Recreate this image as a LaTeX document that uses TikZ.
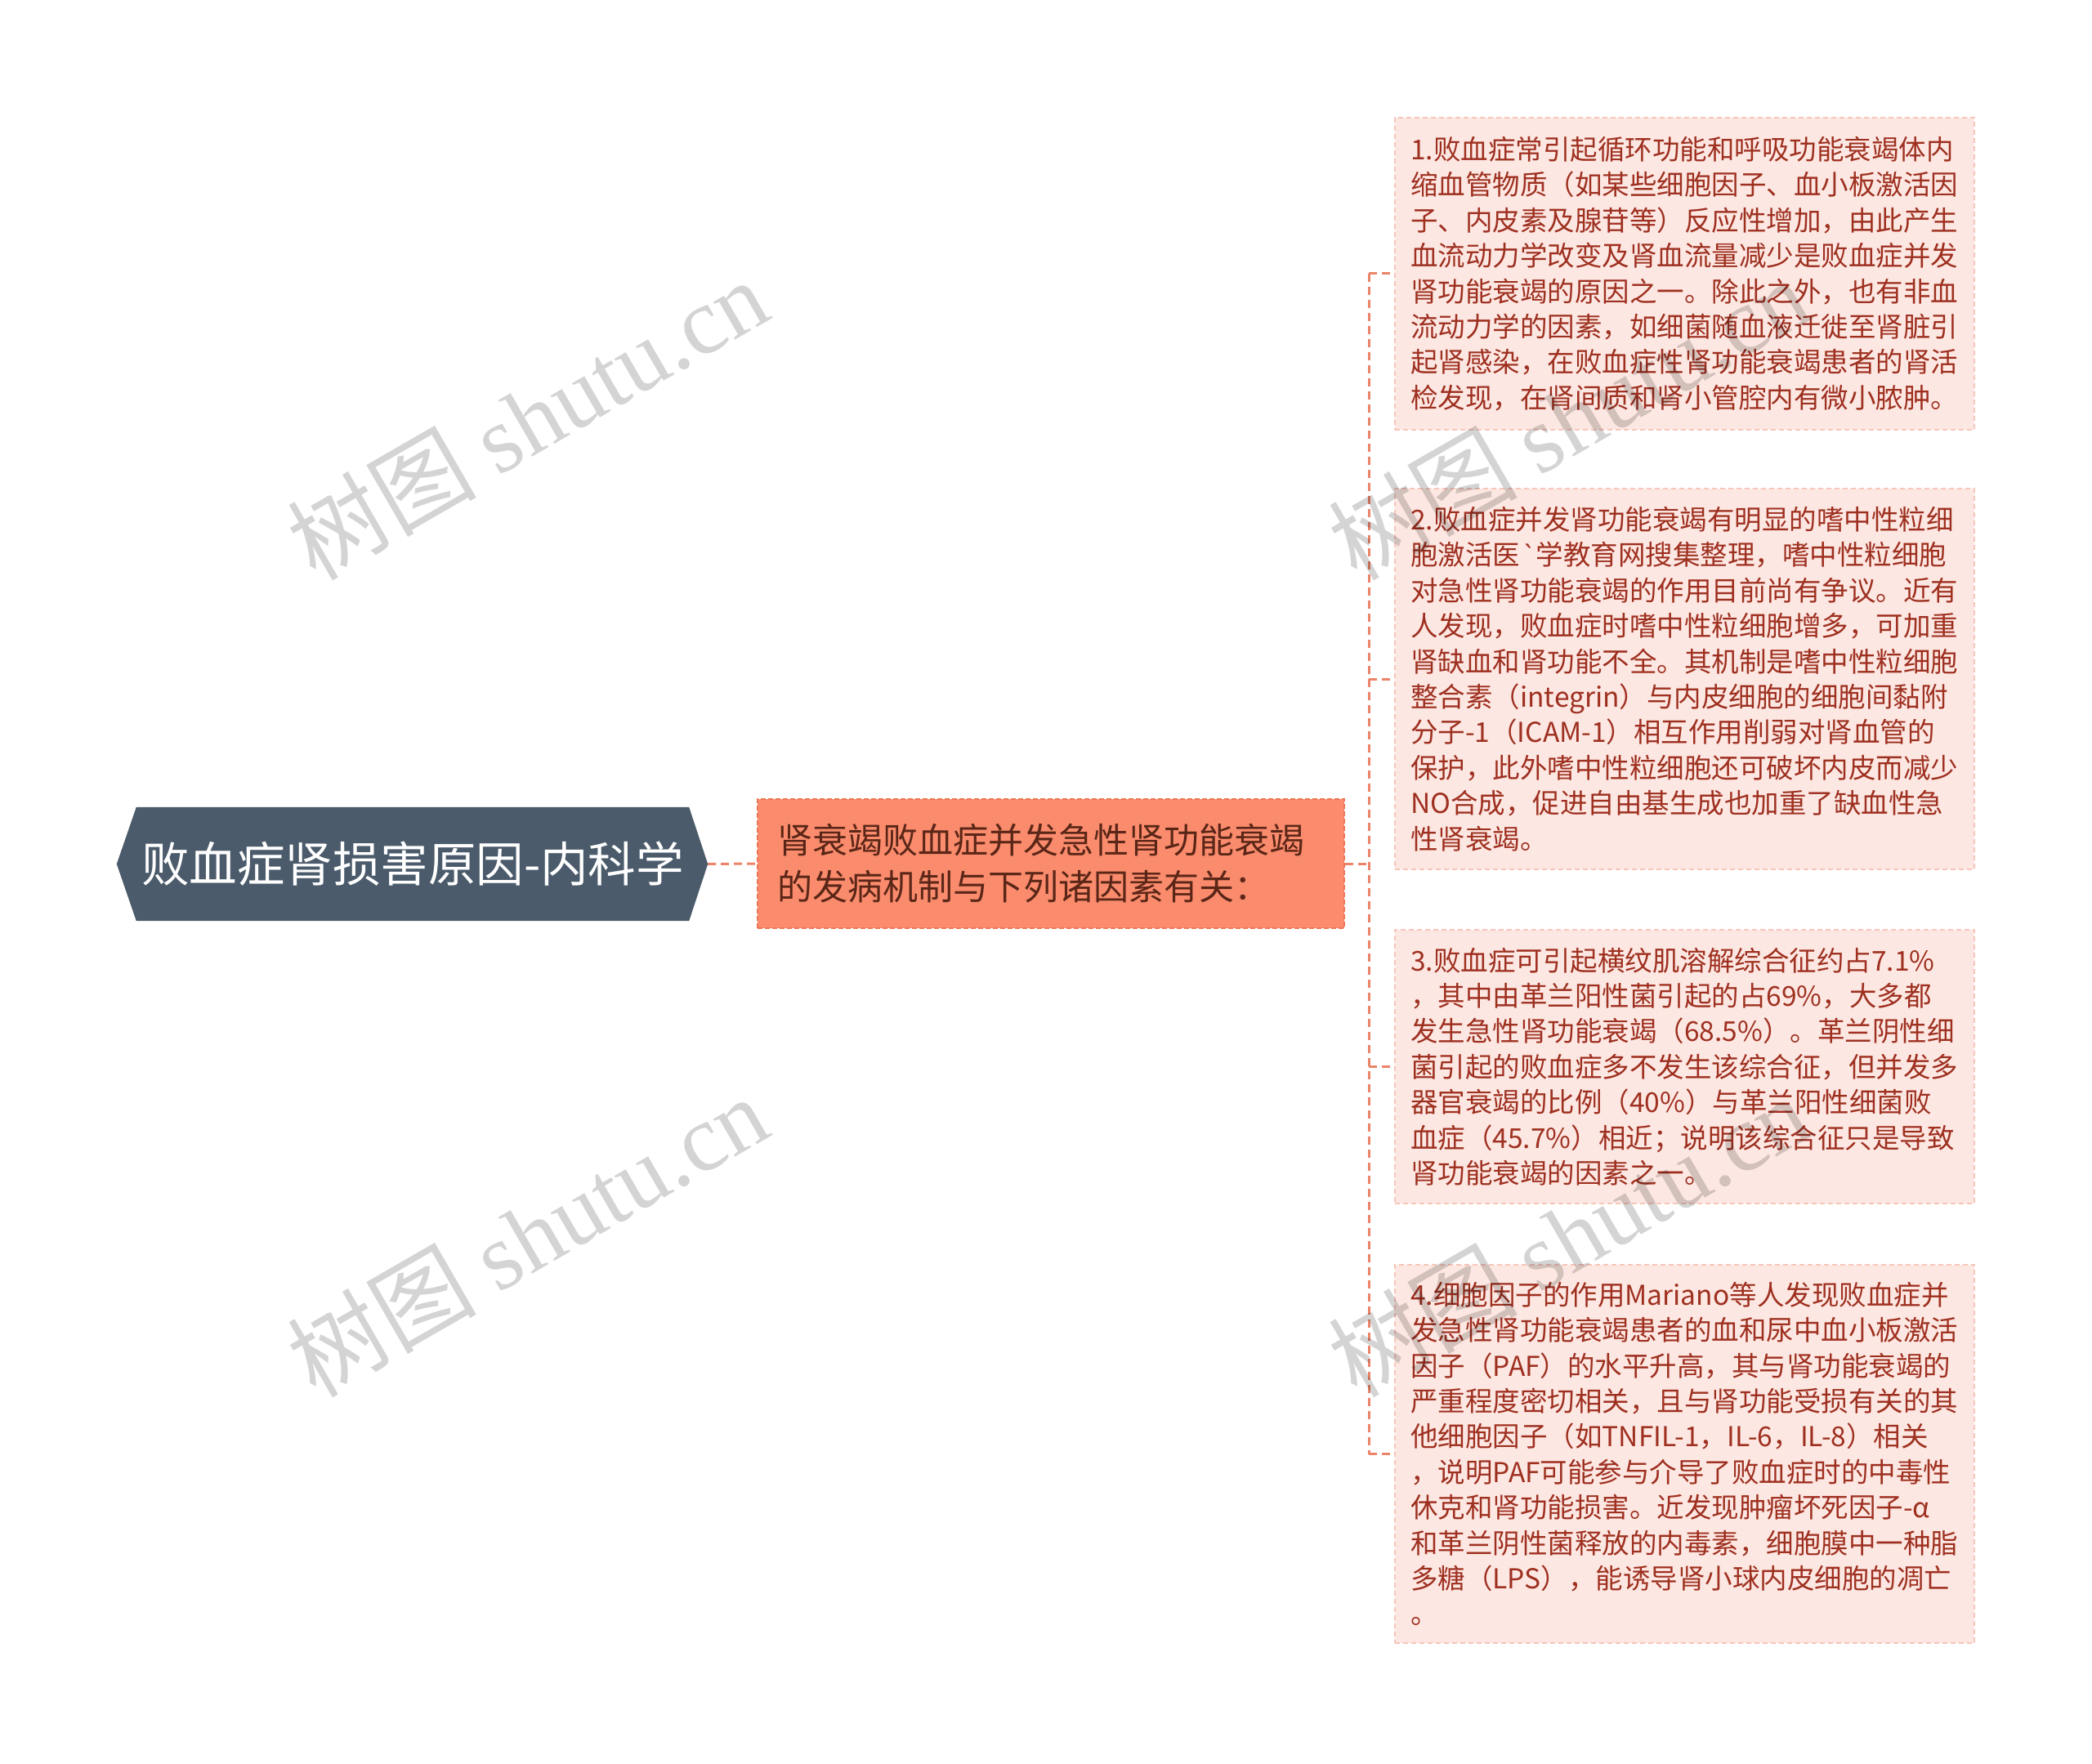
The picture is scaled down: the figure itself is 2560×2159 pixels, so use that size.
\documentclass[tikz,border=0pt]{standalone}
\usepackage{fontspec}
\setmainfont{Noto Sans CJK SC}
\newfontfamily\cjkfont{Noto Sans CJK SC}
\newfontfamily\wmserif{Liberation Serif}
\newfontfamily\latinfont{Open Sans}
\usetikzlibrary{backgrounds,calc}
\definecolor{rootbg}{HTML}{4B5B6B}
\definecolor{midbg}{HTML}{FA8B6C}
\definecolor{midbd}{HTML}{EC7656}
\definecolor{midtx}{HTML}{5A2617}
\definecolor{leafbg}{HTML}{FDE7E2}
\definecolor{leafbd}{HTML}{F6C6BA}
\definecolor{leaftx}{HTML}{9E3020}
\definecolor{linec}{HTML}{EB8468}
\begin{document}
\begin{tikzpicture}[x=1pt,y=-1pt,
  roottext/.style={inner sep=0pt, minimum width=676pt, minimum height=139pt,
    text=white, font=\fontsize{58.5}{66}\selectfont},
  midbox/.style={fill=midbg, draw=midbd, line width=2pt, dash pattern=on 6pt off 3pt,
    text=midtx, font=\fontsize{43}{57}\selectfont, align=left, text width=670pt,
    inner xsep=24pt, inner ysep=0pt, minimum height=158pt, anchor=west},
  leafbox/.style={fill=leafbg, draw=leafbd, line width=1.5pt, dash pattern=on 6pt off 4pt,
    text=leaftx, font=\fontsize{33.5}{43.4}\selectfont, align=left, text width=670pt,
    inner xsep=19.5pt, inner ysep=0pt, anchor=west},
  conn/.style={draw=linec, line width=3pt, dash pattern=on 10pt off 6pt},
  wm/.style={text=black, text opacity=0.17, rotate=30, inner sep=0pt,
    font=\fontsize{116}{124}\selectfont}
]
\useasboundingbox (0,0) rectangle (2560,2159);

\node[roottext] (root) at (505,1057.5) {败血症肾损害原因-内科学};
\coordinate (rtip) at ($(root.east)+(23,0)$);
\coordinate (ltip) at ($(root.west)+(-24,0)$);

\node[midbox] (mid) at (926,1057) {肾衰竭败血症并发急性肾功能衰竭\\的发病机制与下列诸因素有关：};

\node[leafbox, minimum height=382pt] (leaf1) at (1706,335) {1.败血症常引起循环功能和呼吸功能衰竭体内\\缩血管物质（如某些细胞因子、血小板激活因\\子、内皮素及腺苷等）反应性增加，由此产生\\血流动力学改变及肾血流量减少是败血症并发\\肾功能衰竭的原因之一。除此之外，也有非血\\流动力学的因素，如细菌随血液迁徙至肾脏引\\起肾感染，在败血症性肾功能衰竭患者的肾活\\检发现，在肾间质和肾小管腔内有微小脓肿。};

\node[leafbox, minimum height=466pt] (leaf2) at (1706,831) {2.败血症并发肾功能衰竭有明显的嗜中性粒细\\胞激活医{\latinfont\char"60}学教育网搜集整理，嗜中性粒细胞\\对急性肾功能衰竭的作用目前尚有争议。近有\\人发现，败血症时嗜中性粒细胞增多，可加重\\肾缺血和肾功能不全。其机制是嗜中性粒细胞\\整合素（integrin）与内皮细胞的细胞间黏附\\分子-1（ICAM-1）相互作用削弱对肾血管的\\保护，此外嗜中性粒细胞还可破坏内皮而减少\\NO合成，促进自由基生成也加重了缺血性急\\性肾衰竭。};

\node[leafbox, minimum height=335pt] (leaf3) at (1706,1305.5) {3.败血症可引起横纹肌溶解综合征约占7.1\%\\，其中由革兰阳性菌引起的占69\%，大多都\\发生急性肾功能衰竭（68.5\%）。革兰阴性细\\菌引起的败血症多不发生该综合征，但并发多\\器官衰竭的比例（40\%）与革兰阳性细菌败\\血症（45.7\%）相近；说明该综合征只是导致\\肾功能衰竭的因素之一。};

\node[leafbox, minimum height=463pt] (leaf4) at (1706,1779.5) {4.细胞因子的作用Mariano等人发现败血症并\\发急性肾功能衰竭患者的血和尿中血小板激活\\因子（PAF）的水平升高，其与肾功能衰竭的\\严重程度密切相关，且与肾功能受损有关的其\\他细胞因子（如TNFIL-1，IL-6，IL-8）相关\\，说明PAF可能参与介导了败血症时的中毒性\\休克和肾功能损害。近发现肿瘤坏死因子-α\\和革兰阴性菌释放的内毒素，细胞膜中一种脂\\多糖（LPS），能诱导肾小球内皮细胞的凋亡\\。};

\begin{scope}[on background layer]
\fill[white] (0,0) rectangle (2560,2159);
\fill[rootbg] (root.north west) -- (root.north east) -- (rtip) -- (root.south east)
  -- (root.south west) -- (ltip) -- cycle;
\end{scope}

\coordinate (fork) at (1675,1057);
\draw[conn] (rtip) -- (mid.west);
\draw[conn] (mid.east) -- (fork);
\draw[conn] (fork |- leaf1.west) -- (fork |- leaf4.west);
\foreach \i in {1,...,4} {\draw[conn] (fork |- leaf\i.west) -- (leaf\i.west);}

\node[wm] (wm1) at (645,512) {{\cjkfont 树图} {\wmserif shutu.cn}};
\node[wm] (wm2) at (1919,512) {{\cjkfont 树图} {\wmserif shutu.cn}};
\node[wm] (wm3) at (645,1512) {{\cjkfont 树图} {\wmserif shutu.cn}};
\node[wm] (wm4) at (1919,1512) {{\cjkfont 树图} {\wmserif shutu.cn}};
\end{tikzpicture}
\end{document}
